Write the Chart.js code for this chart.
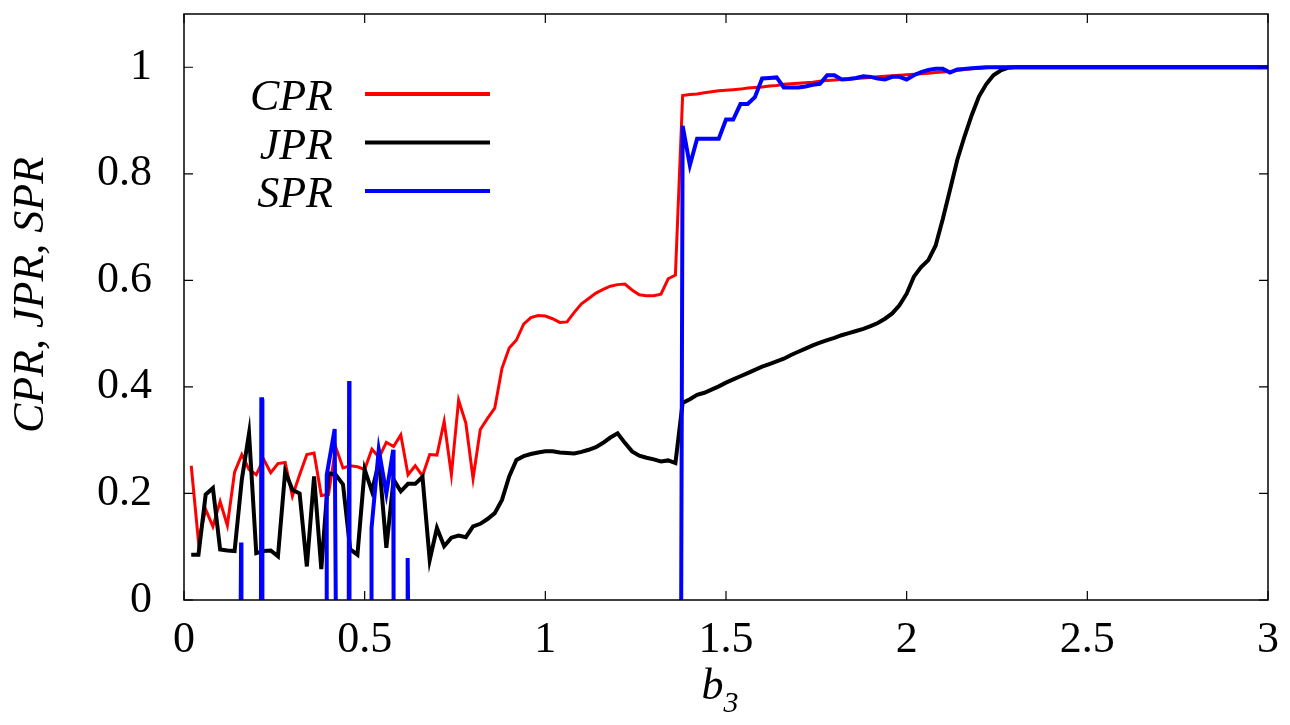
<!DOCTYPE html>
<html><head><meta charset="utf-8">
<script src="https://cdn.jsdelivr.net/npm/chart.js@4"></script>
<style>html,body{margin:0;padding:0;background:#fff}#wrap{width:1290px;height:725px}</style>
</head><body><div id="wrap"><canvas id="c" width="1290" height="725"></canvas></div>
<script>
// ---- data ----
const xGrid = [
 0.02,0.04,0.06,0.08,0.10,0.12,0.14,0.16,0.18,0.20,
 0.22,0.24,0.26,0.28,0.30,0.32,0.34,0.36,0.38,0.40,
 0.42,0.44,0.46,0.48,0.50,0.52,0.54,0.56,0.58,0.60,
 0.62,0.64,0.66,0.68,0.70,0.72,0.74,0.76,0.78,0.80,
 0.82,0.84,0.86,0.88,0.90,0.92,0.94,0.96,0.98,1.00,
 1.02,1.04,1.06,1.08,1.10,1.12,1.14,1.16,1.18,1.20,
 1.22,1.24,1.26,1.28,1.30,1.32,1.34,1.36,1.38,1.40,
 1.42,1.44,1.46,1.48,1.50,1.52,1.54,1.56,1.58,1.60,
 1.62,1.64,1.66,1.68,1.70,1.72,1.74,1.76,1.78,1.80,
 1.82,1.84,1.86,1.88,1.90,1.92,1.94,1.96,1.98,2.00,
 2.02,2.04,2.06,2.08,2.10,2.12,2.14,2.16,2.18,2.20,
 2.22,2.24,2.26,2.28,2.30,2.32,2.34,2.36,2.38,2.40,
 3.00];
const cprValues = [
 0.252,0.11,0.17,0.138,0.185,0.14,0.24,0.273,0.245,0.235,
 0.265,0.239,0.256,0.258,0.195,0.235,0.273,0.276,0.196,0.198,
 0.287,0.248,0.252,0.25,0.245,0.283,0.268,0.296,0.288,0.31,
 0.235,0.252,0.233,0.273,0.272,0.335,0.235,0.375,0.332,0.228,
 0.32,0.341,0.36,0.435,0.473,0.488,0.518,0.53,0.534,0.533,
 0.528,0.521,0.522,0.54,0.556,0.566,0.576,0.583,0.589,0.592,
 0.593,0.582,0.573,0.571,0.571,0.574,0.603,0.61,0.947,0.949,
 0.95,0.952,0.954,0.956,0.957,0.958,0.959,0.961,0.962,0.963,
 0.965,0.966,0.968,0.969,0.97,0.971,0.972,0.974,0.975,0.976,
 0.977,0.978,0.979,0.98,0.981,0.982,0.983,0.984,0.985,0.986,
 0.987,0.988,0.989,0.99,0.991,0.992,0.994,0.996,0.997,0.998,
 0.999,1,1,1,1,1,1,1,1,1,
 1];
const jprValues = [
 0.085,0.085,0.198,0.21,0.095,0.093,0.092,0.226,0.313,0.088,
 0.092,0.093,0.082,0.241,0.207,0.2,0.063,0.232,0.058,0.238,
 0.235,0.217,0.095,0.085,0.245,0.204,0.26,0.098,0.226,0.204,
 0.218,0.218,0.231,0.075,0.135,0.101,0.117,0.121,0.118,0.138,
 0.143,0.152,0.163,0.188,0.232,0.263,0.27,0.274,0.277,0.279,
 0.279,0.277,0.276,0.275,0.278,0.282,0.287,0.295,0.305,0.313,
 0.295,0.279,0.271,0.267,0.264,0.26,0.262,0.257,0.37,0.377,
 0.385,0.389,0.395,0.401,0.408,0.414,0.42,0.426,0.432,0.438,
 0.443,0.448,0.453,0.46,0.466,0.472,0.478,0.483,0.488,0.492,
 0.497,0.501,0.505,0.509,0.514,0.52,0.528,0.538,0.553,0.575,
 0.607,0.625,0.638,0.665,0.715,0.77,0.826,0.87,0.91,0.945,
 0.968,0.985,0.994,0.999,1,1,1,1,1,1,
 1];
// SPR: isolated spikes (null = gap), then the jump at b3 ~ 1.376
const sprX = [
 0.157,0.158,0.159, 0.16,
 0.213,0.214,0.216,0.217, 0.3,
 0.394,0.395,0.417,0.42, 0.44,
 0.456,0.457,0.458, 0.5,
 0.518,0.519,0.539,0.56,0.579,0.58, 0.6,
 0.618,0.619,0.62, 1.0,
 1.376,1.38,1.40,1.42,1.44,1.46,1.48,1.50,1.52,1.54,1.56,1.58,1.60,
 1.62,1.64,1.66,1.68,1.70,1.72,1.74,1.76,1.78,1.80,
 1.82,1.84,1.86,1.88,1.90,1.92,1.94,1.96,1.98,2.00,
 2.02,2.04,2.06,2.08,2.10,2.12,2.14,2.16,2.18,2.20,
 2.22,3.00];
const sprY = [
 0,0.108,0, null,
 0,0.377,0.377,0, null,
 0,0.235,0.321,0, null,
 0,0.411,0, null,
 0,0.135,0.282,0.2,0.282,0, null,
 0,0.079,0, null,
 0,0.89,0.816,0.866,0.866,0.866,0.866,0.902,0.902,0.931,0.931,0.944,0.979,
 0.98,0.981,0.962,0.962,0.962,0.964,0.967,0.969,0.985,0.985,
 0.977,0.978,0.98,0.983,0.982,0.979,0.977,0.982,0.982,0.977,
 0.985,0.991,0.995,0.997,0.997,0.99,0.996,0.997,0.998,0.999,
 1,1];
const seriesNames = ['CPR','JPR','SPR'];
const seriesColors = ['#ff0000','#000000','#0000ff'];
const xTickValues = [0,0.5,1,1.5,2,2.5,3];
const yTickValues = [0,0.2,0.4,0.6,0.8,1];
const xTitleMain = 'b', xTitleSub = '3';
const yTitle = 'CPR, JPR, SPR';

const SERIF = "'Liberation Serif','Times New Roman',serif";
const pts = (xs, ys) => xs.map((x,i)=>({x:x, y:ys[i]}));

const frameAndLabels = {
  id:'frameAndLabels',
  afterDraw(chart){
    const {ctx, chartArea:a, scales:{x, y}} = chart;
    ctx.save();
    // frame
    ctx.strokeStyle='#000'; ctx.lineWidth=1.5;
    ctx.strokeRect(a.left, a.top, a.right-a.left, a.bottom-a.top);
    // inward ticks on all four sides
    ctx.lineWidth=1.2;
    const tl=9;
    ctx.beginPath();
    xTickValues.forEach(v=>{const p=x.getPixelForValue(v);
      ctx.moveTo(p,a.bottom); ctx.lineTo(p,a.bottom-tl);
      ctx.moveTo(p,a.top); ctx.lineTo(p,a.top+tl);});
    yTickValues.forEach(v=>{const p=y.getPixelForValue(v);
      ctx.moveTo(a.left,p); ctx.lineTo(a.left+tl,p);
      ctx.moveTo(a.right,p); ctx.lineTo(a.right-tl,p);});
    ctx.stroke();
    // legend (text left, sample line right)
    chart.data.datasets.forEach((ds,i)=>{
      const ly = 94 + i*48.5;
      ctx.font = 'italic 44px '+SERIF;
      ctx.fillStyle='#000'; ctx.textAlign='right'; ctx.textBaseline='alphabetic';
      ctx.fillText(ds.label, 333, ly+16);
      ctx.strokeStyle=ds.borderColor; ctx.lineWidth=4;
      ctx.beginPath(); ctx.moveTo(365,ly); ctx.lineTo(490,ly); ctx.stroke();
    });
    // y title
    ctx.save();
    ctx.translate(43, 295); ctx.rotate(-Math.PI/2);
    ctx.font='italic 44px '+SERIF; ctx.textAlign='center'; ctx.textBaseline='alphabetic';
    ctx.fillStyle='#000'; ctx.fillText(yTitle,0,0);
    ctx.restore();
    // x title with subscript
    ctx.font='italic 44px '+SERIF; ctx.textAlign='left'; ctx.textBaseline='alphabetic';
    const wb = ctx.measureText(xTitleMain).width;
    ctx.font='italic 30px '+SERIF;
    const ws = ctx.measureText(xTitleSub).width;
    const cx = (a.left+a.right)/2 - 6;
    const x0 = cx - (wb+ws)/2;
    ctx.font='italic 44px '+SERIF;
    ctx.fillText(xTitleMain, x0, 699);
    ctx.font='italic 30px '+SERIF;
    ctx.fillText(xTitleSub, x0+wb, 712);
    ctx.restore();
  }
};

new Chart(document.getElementById('c'), {
  type:'line',
  data:{datasets:[
    {label:seriesNames[0], data:pts(xGrid,cprValues), borderColor:seriesColors[0], borderWidth:3, order:3},
    {label:seriesNames[1], data:pts(xGrid,jprValues), borderColor:seriesColors[1], borderWidth:4, order:2},
    {label:seriesNames[2], data:pts(sprX,sprY), borderColor:seriesColors[2], borderWidth:4, order:1}
  ]},
  options:{
    responsive:false, animation:false, devicePixelRatio:1,
    layout:{padding:{top:14,right:22,left:0,bottom:0}},
    elements:{point:{radius:0,hoverRadius:0}, line:{tension:0, borderJoinStyle:'miter', borderCapStyle:'butt', fill:false}},
    spanGaps:false,
    plugins:{legend:{display:false}, tooltip:{enabled:false}},
    scales:{
      x:{type:'linear', min:0, max:3,
        afterBuildTicks:s=>{s.ticks = xTickValues.map(v=>({value:v}));},
        afterFit:s=>{s.height=125; s.paddingLeft=0; s.paddingRight=0; s.paddingTop=0; s.paddingBottom=0;},
        grid:{display:false, drawTicks:false}, border:{display:false},
        ticks:{font:{family:SERIF,size:44}, color:'#000', padding:14, maxRotation:0, autoSkip:false,
          callback:v=>String(+v.toFixed(2))}},
      y:{type:'linear', min:0, max:1.1,
        afterBuildTicks:s=>{s.ticks = yTickValues.map(v=>({value:v}));},
        afterFit:s=>{s.width=184; s.paddingLeft=0; s.paddingRight=0; s.paddingTop=0; s.paddingBottom=0;},
        grid:{display:false, drawTicks:false}, border:{display:false},
        ticks:{font:{family:SERIF,size:44}, color:'#000', padding:32, autoSkip:false,
          callback:v=>String(+v.toFixed(2))}}
    }
  },
  plugins:[frameAndLabels]
});
</script></body></html>
